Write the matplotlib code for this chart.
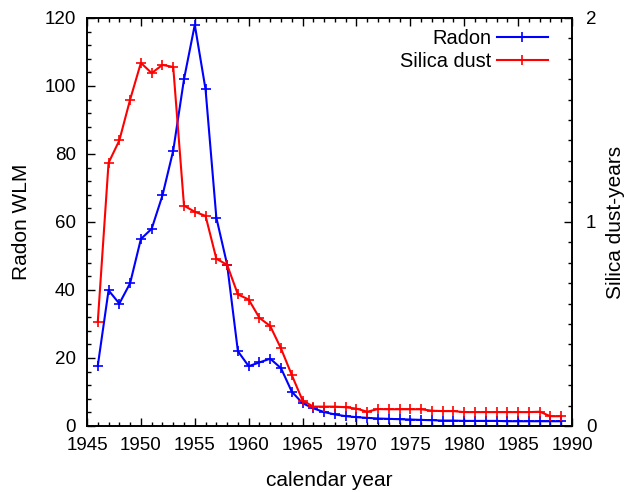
import numpy as np
import matplotlib
matplotlib.use("Agg")
import matplotlib.pyplot as plt
from matplotlib.ticker import MultipleLocator

plt.rcParams['font.family'] = ['Liberation Sans', 'DejaVu Sans']

years = list(range(1946, 1990))

radon = [17.7, 39.9, 36.0, 42.0, 55.0, 58.0, 67.8, 81.0, 102.0, 118.0,
         99.0, 61.3, 47.5, 22.0, 17.6, 18.7, 19.8, 17.0, 10.1, 6.7,
         5.2, 4.1, 3.4, 2.9, 2.6, 2.4, 2.2, 2.1, 2.0, 1.9,
         1.8, 1.7, 1.6, 1.6, 1.5, 1.5, 1.5, 1.5, 1.4, 1.4,
         1.4, 1.4, 1.4, 1.4]

silica = [0.51, 1.29, 1.40, 1.60, 1.78, 1.73, 1.77, 1.76, 1.08, 1.05,
          1.03, 0.82, 0.79, 0.645, 0.62, 0.53, 0.49, 0.38, 0.25, 0.125,
          0.095, 0.095, 0.095, 0.092, 0.085, 0.07, 0.083, 0.082, 0.082, 0.082,
          0.082, 0.075, 0.073, 0.073, 0.068, 0.068, 0.068, 0.068, 0.068, 0.068,
          0.068, 0.07, 0.048, 0.048]

fig = plt.figure(figsize=(6.25, 4.92), dpi=100)
ax = fig.add_axes([87/625, 1 - 426/492, (572-87)/625, (426-18)/492])
ax2 = ax.twinx()

l1, = ax.plot(years, radon, color='#0000ff', lw=1.5, marker='+', ms=6.5, mew=1.2, label='Radon')
l2, = ax2.plot(years, silica, color='#ff0000', lw=1.5, marker='+', ms=6.5, mew=1.2, label='Silica dust')

ax.set_xlim(1945, 1990)
ax.set_ylim(0, 120)
ax2.set_ylim(0, 2)

ax.xaxis.set_major_locator(MultipleLocator(5))
ax.xaxis.set_minor_locator(MultipleLocator(1))
ax.yaxis.set_major_locator(MultipleLocator(20))
ax.yaxis.set_minor_locator(MultipleLocator(4))
ax2.yaxis.set_major_locator(MultipleLocator(1))
ax2.yaxis.set_minor_locator(MultipleLocator(0.1))

ax.tick_params(axis='x', which='both', direction='in', top=True, labelsize=13.5, pad=8)
ax.tick_params(axis='y', which='both', direction='in', right=False, labelsize=13.5, pad=8)
ax2.tick_params(axis='y', which='both', direction='in', labelsize=13.5, pad=10)
for a in (ax, ax2):
    a.tick_params(which='major', length=6, width=1)
    a.tick_params(which='minor', length=3, width=1)
    for s in a.spines.values():
        s.set_linewidth(1.2)

ax.set_xlabel('calendar year', fontsize=15, labelpad=12)
ax.set_ylabel('Radon WLM', fontsize=15, labelpad=10)
ax2.set_ylabel('Silica dust-years', fontsize=15, labelpad=7)

ax2.legend([l1, l2], ['Radon', 'Silica dust'], loc='upper right', frameon=False,
           markerfirst=False, fontsize=14.4, handlelength=2.55, handletextpad=0.3,
           labelspacing=0.2, borderaxespad=0.0, bbox_to_anchor=(0.967, 0.992))

fig.savefig('out.png', dpi=100)
